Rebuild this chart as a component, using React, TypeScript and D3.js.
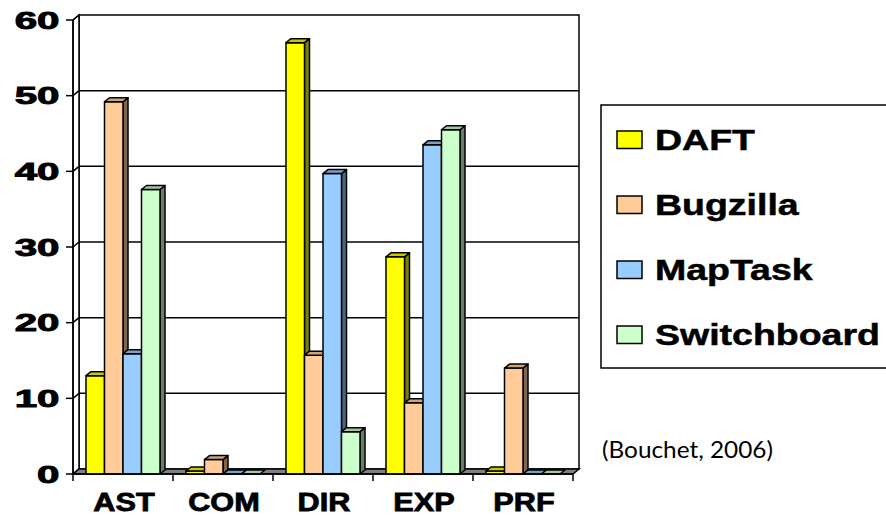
import React from "react";
import * as d3 from "d3";

const categories = ["AST", "COM", "DIR", "EXP", "PRF"];
const seriesNames = ["DAFT", "Bugzilla", "MapTask", "Switchboard"];
const daft = [13, 0.4, 57, 28.7, 0.4];
const bugzilla = [49.2, 1.9, 15.7, 9.4, 14.0];
const mapTask = [15.9, 0, 39.7, 43.5, 0];
const switchboard = [37.6, 0, 5.6, 45.5, 0];
const yTicks = [0, 10, 20, 30, 40, 50, 60];

const seriesValues = [daft, bugzilla, mapTask, switchboard];
const frontColors = ["#FFFF00", "#FFCC99", "#99CCFF", "#CCFFCC"];
const topColors = ["#C8C800", "#CCA37A", "#7AA0C8", "#A3C8A3"];
const sideColors = ["#808000", "#806650", "#4D6680", "#668066"];

const W = 886;
const H = 515;
const X0 = 73;
const X1 = 573;
const Y0 = 474;
const Y60 = 20;
const DX = 6;
const DY = 5;
const BDX = 5;
const BDY = 4;
const FONT = "'Liberation Sans', Arial, sans-serif";

function poly(pts: [number, number][]) {
  return pts.map((p) => p.join(",")).join(" ");
}

export default function App() {
  const x = d3
    .scaleBand<string>()
    .domain(categories)
    .range([X0, X1])
    .paddingInner(0.26)
    .paddingOuter(0.13);
  const xs = d3
    .scaleBand<string>()
    .domain(seriesNames)
    .range([0, x.bandwidth()])
    .padding(0);
  const y = d3.scaleLinear().domain([0, 60]).range([Y0, Y60]);

  const sw = 1.5;

  const bars: React.ReactNode[] = [];
  categories.forEach((c, ci) => {
    seriesNames.forEach((s, si) => {
      const v = seriesValues[si][ci];
      const bx = (x(c) as number) + (xs(s) as number);
      const bw = xs.bandwidth();
      const yt = y(v);
      const yb = Y0;
      const key = `${ci}-${si}`;
      bars.push(
        <g key={key} stroke="#000" strokeWidth={sw} strokeLinejoin="round">
          {v > 0 && (
            <polygon
              points={poly([
                [bx + bw, yt],
                [bx + bw + BDX, yt - BDY],
                [bx + bw + BDX, yb - BDY],
                [bx + bw, yb],
              ])}
              fill={sideColors[si]}
            />
          )}
          {v > 0 && (
            <rect x={bx} y={yt} width={bw} height={yb - yt} fill={frontColors[si]} />
          )}
          <polygon
            points={poly([
              [bx, yt],
              [bx + BDX, yt - BDY],
              [bx + bw + BDX, yt - BDY],
              [bx + bw, yt],
            ])}
            fill={topColors[si]}
          />
        </g>
      );
    });
  });

  return (
    <svg
      width={W}
      height={H}
      viewBox={`0 0 ${W} ${H}`}
      style={{ position: "absolute", left: 0, top: 0, background: "#fff" }}
    >
      <rect x={0} y={0} width={W} height={H} fill="#fff" />
      {/* back wall */}
      <rect
        x={X0 + DX}
        y={Y60 - DY}
        width={X1 - X0}
        height={Y0 - Y60}
        fill="#fff"
        stroke="#000"
        strokeWidth={sw}
      />
      {yTicks
        .filter((t) => t > 0 && t < 60)
        .map((t) => (
          <line
            key={`g${t}`}
            x1={X0 + DX}
            x2={X1 + DX}
            y1={y(t) - DY}
            y2={y(t) - DY}
            stroke="#000"
            strokeWidth={sw}
          />
        ))}
      {/* left wall */}
      <polygon
        points={poly([
          [X0, Y60],
          [X0 + DX, Y60 - DY],
          [X0 + DX, Y0 - DY],
          [X0, Y0],
        ])}
        fill="#fff"
        stroke="#000"
        strokeWidth={sw}
      />
      {yTicks.map((t) => (
        <g key={`t${t}`} stroke="#000" strokeWidth={sw}>
          <line x1={X0 - 7} x2={X0} y1={y(t)} y2={y(t)} />
          <line x1={X0} x2={X0 + DX} y1={y(t)} y2={y(t) - DY} />
        </g>
      ))}
      {/* floor */}
      <polygon
        points={poly([
          [X0, Y0],
          [X1, Y0],
          [X1 + DX, Y0 - DY],
          [X0 + DX, Y0 - DY],
        ])}
        fill="#808080"
        stroke="#000"
        strokeWidth={sw}
      />
      {bars}
      {/* front axes */}
      <line x1={X0} x2={X0} y1={Y60} y2={Y0} stroke="#000" strokeWidth={sw} />
      <line x1={X0} x2={X1} y1={Y0} y2={Y0} stroke="#000" strokeWidth={sw} />
      {d3.range(categories.length + 1).map((i) => (
        <line
          key={`ct${i}`}
          x1={X0 + i * x.step()}
          x2={X0 + i * x.step()}
          y1={Y0}
          y2={Y0 + 7}
          stroke="#000"
          strokeWidth={sw}
        />
      ))}
      {/* y tick labels */}
      {yTicks.map((t) => (
        <text
          key={`yl${t}`}
          transform={`translate(59.5,${y(t) + 8.5}) scale(1.68,1)`}
          textAnchor="end"
          fontFamily={FONT}
          fontWeight="bold"
          fontSize={24}
          fill="#000"
          stroke="#000"
          strokeWidth={0.9}
        >
          {t}
        </text>
      ))}
      {/* category labels */}
      {categories.map((c) => (
        <text
          key={`cl${c}`}
          transform={`translate(${(x(c) as number) + x.bandwidth() / 2 + 1},511) scale(1.18,1)`}
          textAnchor="middle"
          fontFamily={FONT}
          fontWeight="bold"
          fontSize={26}
          fill="#000"
          stroke="#000"
          strokeWidth={0.8}
        >
          {c}
        </text>
      ))}
      {/* legend */}
      <rect x={601} y={105} width={320} height={263} fill="#fff" stroke="#000" strokeWidth={sw} />
      {seriesNames.map((s, i) => (
        <g key={`lg${s}`}>
          <rect
            x={617}
            y={131 + i * 65}
            width={25}
            height={17.5}
            fill={frontColors[i]}
            stroke="#000"
            strokeWidth={1.5}
          />
          <text
            transform={`translate(655,${150 + i * 65}) scale(1.25,1)`}
            fontFamily={FONT}
            fontWeight="bold"
            fontSize={30}
            fill="#000"
            stroke="#000"
            strokeWidth={0.5}
          >
            {s}
          </text>
        </g>
      ))}
      <text
        x={602}
        y={458}
        fontFamily="Lato, 'Open Sans', sans-serif"
        fontSize={24}
        textLength={171}
        lengthAdjust="spacingAndGlyphs"
        fill="#000"
      >
        (Bouchet, 2006)
      </text>
    </svg>
  );
}
